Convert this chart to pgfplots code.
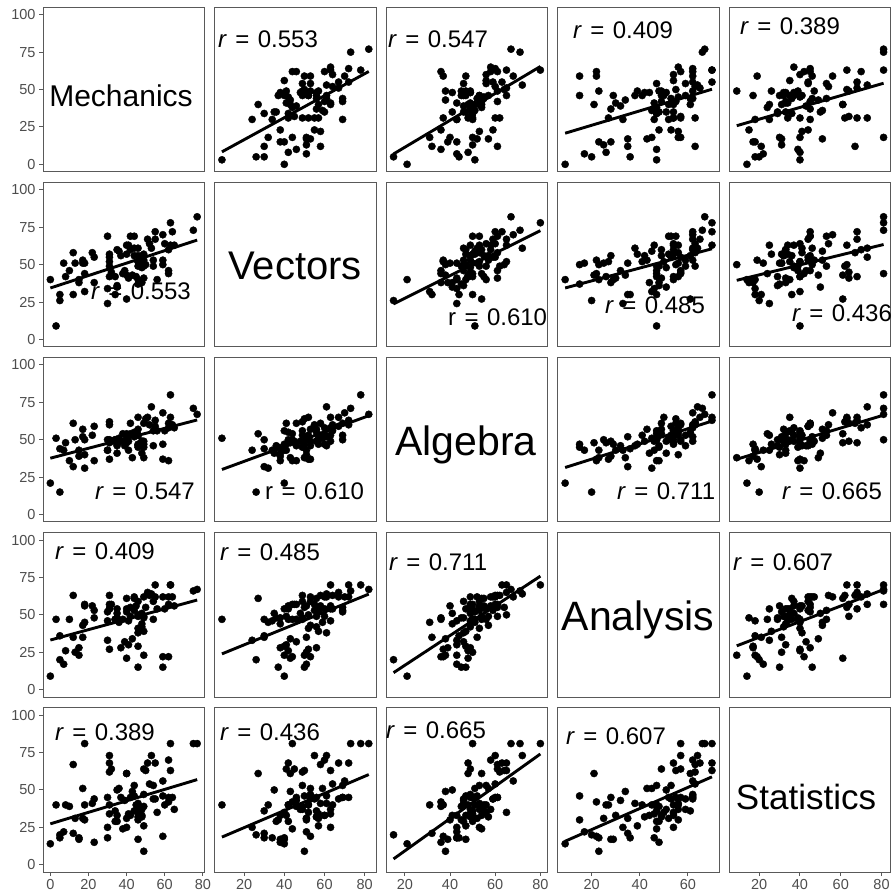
\documentclass[border=0pt]{standalone}
\usepackage{fontspec}
\setmainfont{Liberation Sans}
\usepackage{pgfplots}
\usepackage{pgfplotstable}
\pgfplotsset{compat=1.18}

\definecolor{framegray}{HTML}{595959}
\definecolor{ticktext}{HTML}{4D4D4D}

% Exam marks of 88 students (mechanics, vectors, algebra, analysis, statistics)
\pgfplotstableread{
mec vec alg ana sta
77 82 67 67 81
63 78 80 70 81
75 73 71 66 81
55 72 63 70 68
63 63 65 70 63
53 61 72 64 73
51 67 65 65 68
59 70 68 62 56
62 60 58 62 70
64 72 60 62 45
52 64 60 63 54
55 67 59 62 44
50 50 64 55 63
65 63 58 56 37
31 55 60 57 73
60 64 56 54 40
44 69 53 53 53
42 69 61 55 45
62 46 61 57 45
31 49 62 63 62
44 61 52 62 46
49 41 61 49 64
12 58 61 63 67
49 53 49 62 47
54 49 56 47 53
54 53 46 59 44
44 56 55 61 36
18 44 50 57 81
46 52 65 50 35
32 45 49 57 64
30 69 50 52 45
46 49 53 59 37
40 27 54 61 61
31 42 48 54 68
36 59 51 45 51
56 40 56 54 35
46 56 57 49 32
45 42 55 56 40
42 60 54 49 33
40 63 53 54 25
23 55 59 53 44
48 48 49 51 37
41 63 49 46 34
46 52 53 41 40
46 61 46 38 41
40 57 51 52 31
49 49 45 48 39
22 58 53 56 41
35 60 47 54 33
48 56 49 42 32
31 57 50 54 34
17 53 57 43 51
49 57 47 39 26
59 50 47 15 46
37 56 49 28 45
40 43 48 21 61
35 35 41 51 50
38 44 54 47 24
43 43 38 34 49
39 46 46 32 43
62 44 36 22 42
48 38 41 44 33
34 42 50 47 29
18 51 40 56 30
35 36 46 48 29
59 53 37 22 19
41 41 43 30 33
31 52 37 27 40
17 51 52 35 31
34 30 50 47 36
46 40 47 29 17
10 46 36 47 39
46 37 45 15 30
30 34 43 46 18
13 51 50 25 31
49 50 38 23 9
18 32 31 45 40
8 42 48 26 40
23 38 36 48 15
30 24 43 33 25
3 9 51 47 40
7 51 43 17 22
15 40 43 23 18
15 38 39 28 17
5 30 44 36 18
12 30 32 35 21
5 26 15 20 20
0 40 21 9 14
}\marks

% copies sorted by each subject, so the fitted lines run left to right
\pgfplotstablesort[sort key=mec]{\smec}{\marks}
\pgfplotstablesort[sort key=vec]{\svec}{\marks}
\pgfplotstablesort[sort key=alg]{\salg}{\marks}
\pgfplotstablesort[sort key=ana]{\sana}{\marks}
\pgfplotstablesort[sort key=sta]{\ssta}{\marks}

\pgfplotsset{
  panel/.style={
    scale only axis, width=161.5pt, height=164.5pt,
    ymin=-5, ymax=105,
    axis line style={framegray, line width=1pt},
    xtick=\empty, ytick=\empty,
    tick align=outside, major tick length=4pt,
    tick style={framegray, line width=1pt},
    xtick pos=left, ytick pos=left,
    ticklabel style={font=\fontsize{14.5}{14.5}\selectfont, text=ticktext},
    /pgf/number format/assume math mode=true,
    anchor=south west,
  },
  c1/.style={xmin=-3.85, xmax=80.85},
  c2/.style={xmin=5.35, xmax=85.65},
  c3/.style={xmin=11.75, xmax=83.25},
  c4/.style={xmin=5.95, xmax=73.05},
  c5/.style={xmin=5.4, xmax=84.6},
  xt1/.style={xtick={0,20,40,60,80}},
  xt2/.style={xtick={20,40,60,80}},
  xt3/.style={xtick={20,40,60,80}},
  xt4/.style={xtick={20,40,60}},
  xt5/.style={xtick={20,40,60,80}},
  yt/.style={ytick={0,25,50,75,100}},
}

% #1 row, #2 column, #3 x subject, #4 y subject, #5 sorted table, #6 extra options
\newcommand\scatterpanel[6]{%
  \begin{axis}[panel, c#2,
      at={({43pt+(#2-1)*171.6pt},{724.2pt-(#1-1)*175.1pt})}, #6]
    \addplot[only marks, mark=*, mark size=3.6pt, black] table[x=#3, y=#4] {\marks};
    \addplot[black, line width=2.9pt, no marks]
      table[x=#3, y={create col/linear regression={x=#3,y=#4}}] {#5};
  \end{axis}}

% #1 row/column, #2 extra options
\newcommand\diagpanel[2]{%
  \begin{axis}[panel, c#1,
      at={({43pt+(#1-1)*171.6pt},{724.2pt-(#1-1)*175.1pt})}, #2]
  \end{axis}}

\newcommand\rfont{\fontsize{24}{24}\selectfont}
\newcommand\eqgap{\hspace{0.35em}}
\newcommand\rlab[3]{\node[anchor=base west, inner sep=0pt] at (#1pt, 896pt-#2pt)
  {\rfont\textit{r}\eqgap=\eqgap#3};}
\newcommand\rlabup[3]{\node[anchor=base west, inner sep=0pt] at (#1pt, 896pt-#2pt)
  {\rfont r\eqgap=\eqgap#3};}
\newcommand\dlab[4]{\node[anchor=base, inner sep=0pt] at (#1pt, 896pt-#2pt)
  {\fontsize{#3}{#3}\selectfont #4};}

\begin{document}
\begin{tikzpicture}
\useasboundingbox (0,0) rectangle (893pt,896pt);

% row 1: mechanics
\diagpanel{1}{yt}
\scatterpanel{1}{2}{vec}{mec}{\svec}{}
\scatterpanel{1}{3}{alg}{mec}{\salg}{}
\scatterpanel{1}{4}{ana}{mec}{\sana}{}
\scatterpanel{1}{5}{sta}{mec}{\ssta}{}
% row 2: vectors
\scatterpanel{2}{1}{mec}{vec}{\smec}{yt}
\diagpanel{2}{}
\scatterpanel{2}{3}{alg}{vec}{\salg}{}
\scatterpanel{2}{4}{ana}{vec}{\sana}{}
\scatterpanel{2}{5}{sta}{vec}{\ssta}{}
% row 3: algebra
\scatterpanel{3}{1}{mec}{alg}{\smec}{yt}
\scatterpanel{3}{2}{vec}{alg}{\svec}{}
\diagpanel{3}{}
\scatterpanel{3}{4}{ana}{alg}{\sana}{}
\scatterpanel{3}{5}{sta}{alg}{\ssta}{}
% row 4: analysis
\scatterpanel{4}{1}{mec}{ana}{\smec}{yt}
\scatterpanel{4}{2}{vec}{ana}{\svec}{}
\scatterpanel{4}{3}{alg}{ana}{\salg}{}
\diagpanel{4}{}
\scatterpanel{4}{5}{sta}{ana}{\ssta}{}
% row 5: statistics
\scatterpanel{5}{1}{mec}{sta}{\smec}{yt, xt1}
\scatterpanel{5}{2}{vec}{sta}{\svec}{xt2}
\scatterpanel{5}{3}{alg}{sta}{\salg}{xt3}
\scatterpanel{5}{4}{ana}{sta}{\sana}{xt4}
\diagpanel{5}{xt5}

% subject names on the diagonal
\dlab{121}{107}{30}{Mechanics}
\dlab{295}{280}{40}{Vectors}
\dlab{466}{456}{41}{Algebra}
\dlab{638}{631}{41}{Analysis}
\dlab{806}{810}{35}{Statistics}

% correlation coefficients
\rlab{218}{48}{0.553}
\rlab{388}{48}{0.547}
\rlab{573}{39}{0.409}
\rlab{740}{35}{0.389}
\rlab{91}{300}{0.553}
\rlabup{448}{326}{0.610}
\rlab{605}{314}{0.485}
\rlab{792}{322}{0.436}
\rlab{95}{500}{0.547}
\rlabup{265}{500}{0.610}
\rlab{617}{500}{0.711}
\rlab{782}{500}{0.665}
\rlab{55}{560}{0.409}
\rlab{220}{561}{0.485}
\rlab{389}{571}{0.711}
\rlab{733}{571}{0.607}
\rlab{55}{741}{0.389}
\rlab{220}{741}{0.436}
\rlab{386}{739}{0.665}
\rlab{566}{745}{0.607}
\end{tikzpicture}
\end{document}
